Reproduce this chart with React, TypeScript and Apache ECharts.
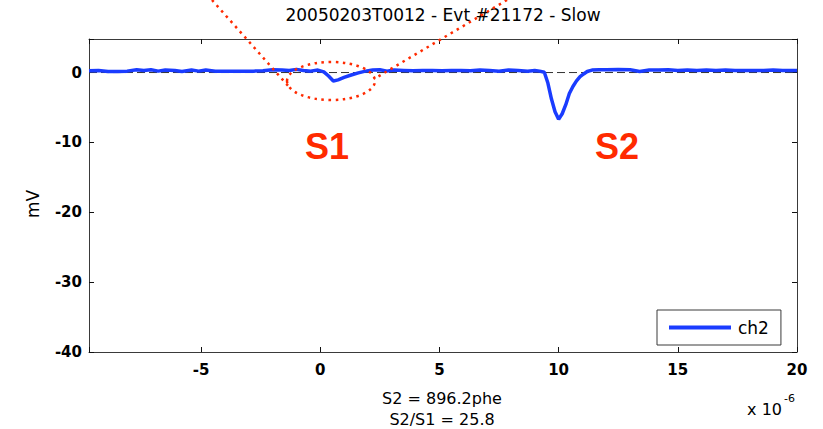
import React, { useEffect, useRef } from 'react';
import * as echarts from 'echarts';

// time in microseconds (axis shows x 10^-6 s)
const timeUs = [
  -9.7, -9.3, -8.9, -8.5, -8.1, -7.7, -7.4, -7.1, -6.8, -6.5, -6.1, -5.8, -5.4, -5.1, -4.8, -4.4,
  -4.0, -3.6, -3.2, -2.8, -2.4, -2.0, -1.6, -1.3, -1.0, -0.7, -0.4, -0.1, 0.15, 0.35, 0.55, 0.75,
  1.0, 1.3, 1.6, 1.9, 2.2, 2.5, 2.8, 3.1, 3.5, 3.9, 4.3, 4.7, 5.1, 5.5, 5.9, 6.3, 6.7, 7.1, 7.5,
  7.9, 8.3, 8.7, 9.0, 9.2, 9.4, 9.55, 9.7, 9.85, 10.0, 10.15, 10.3, 10.45, 10.6, 10.75, 10.9,
  11.05, 11.2, 11.4, 11.7, 12.0, 12.5, 13.0, 13.4, 13.8, 14.2, 14.6, 15.0, 15.4, 15.8, 16.2,
  16.6, 17.0, 17.4, 17.8, 18.2, 18.6, 19.0, 19.4, 19.8, 20.0,
];
// ch2 signal in mV
const ch2mV = [
  0.25, 0.3, 0.15, 0.15, 0.2, 0.4, 0.3, 0.4, 0.2, 0.35, 0.3, 0.15, 0.35, 0.2, 0.35, 0.2,
  0.2, 0.2, 0.2, 0.2, 0.25, 0.4, 0.35, 0.3, 0.45, 0.3, 0.2, 0.35, 0.1, -0.5, -1.2, -1.05,
  -0.7, -0.35, -0.05, 0.2, 0.35, 0.4, 0.2, 0.35, 0.3, 0.25, 0.3, 0.3, 0.25, 0.3, 0.3, 0.25, 0.35, 0.3, 0.2,
  0.35, 0.3, 0.2, 0.3, 0.2, 0.05, -1.5, -3.8, -5.6, -6.7, -5.9, -4.6, -3.0, -2.0, -1.2, -0.6,
  -0.2, 0.15, 0.35, 0.4, 0.4, 0.45, 0.4, 0.15, 0.35, 0.35, 0.4, 0.3, 0.35, 0.3, 0.35,
  0.3, 0.35, 0.3, 0.3, 0.3, 0.3, 0.35, 0.3, 0.3, 0.3,
];
const xRange = [-9.7, 20];
const yRange = [-40, 4.8];
const titleText = '20050203T0012 - Evt #21172 - Slow';
const footerLines = ['S2 = 896.2phe', 'S2/S1 = 25.8'];
const peakLabels = ['S1', 'S2'];

const FONT = '"DejaVu Sans", sans-serif';

export default function App() {
  const ref = useRef<HTMLDivElement>(null);
  useEffect(() => {
    if (!ref.current) return;
    const chart = echarts.init(ref.current, undefined, { renderer: 'svg' });
    const data = timeUs.map((t, i) => [t, ch2mV[i]]);
    const axisLine = { show: true, onZero: false, lineStyle: { color: '#3a3a3a', width: 1 } };
    const tick = { show: true, inside: true, length: 5, lineStyle: { color: '#111', width: 1 } };
    const red = '#ff2a00';
    const option: any = {
      animation: false,
      backgroundColor: '#ffffff',
      grid: { left: 89, right: 26, top: 39, bottom: 77, show: false },
      legend: {
        data: ['ch2'],
        left: 657,
        top: 310,
        icon: 'rect',
        itemWidth: 62,
        itemHeight: 4,
        padding: [9, 12, 9, 12],
        borderColor: '#3a3a3a',
        borderWidth: 1,
        backgroundColor: '#fff',
        borderRadius: 0,
        textStyle: { fontFamily: FONT, fontSize: 17, color: '#000', padding: [0, 0, 0, 2] },
      },
      xAxis: [
        {
          type: 'value', min: xRange[0], max: xRange[1], splitNumber: 6,
          axisLine, axisTick: tick, splitLine: { show: false },
          axisLabel: {
            margin: 10, fontFamily: FONT, fontSize: 15, fontWeight: 'bold', color: '#000',
            formatter: (v: number) => (Math.abs(v % 5) < 1e-9 ? String(v) : ''),
          },
        },
        {
          type: 'value', position: 'top', min: xRange[0], max: xRange[1], splitNumber: 6,
          axisLine, axisTick: tick, splitLine: { show: false }, axisLabel: { show: false },
        },
      ],
      yAxis: [
        {
          type: 'value', min: yRange[0], max: yRange[1], interval: 10,
          axisLine, axisTick: tick, splitLine: { show: false },
          axisLabel: {
            margin: 7, fontFamily: FONT, fontSize: 15, fontWeight: 'bold', color: '#000',
            formatter: (v: number) => (Math.abs(v % 10) < 1e-9 ? String(v) : ''),
          },
        },
        {
          type: 'value', position: 'right', min: yRange[0], max: yRange[1], interval: 10,
          axisLine, axisTick: tick, splitLine: { show: false }, axisLabel: { show: false },
        },
      ],
      series: [
        {
          name: 'zero',
          type: 'line',
          data: [[xRange[0], 0], [xRange[1], 0]],
          showSymbol: false,
          silent: true,
          lineStyle: { color: '#333', width: 1, type: [8, 4] },
          z: 1,
        },
        {
          name: 'ch2',
          type: 'line',
          data,
          showSymbol: false,
          lineStyle: { color: '#1a3cff', width: 3.5 },
          itemStyle: { color: '#1a3cff' },
          z: 2,
        },
      ],
      graphic: [
        {
          type: 'text', x: 443, y: 15,
          style: { text: titleText, font: `17px ${FONT}`, fill: '#000', align: 'center', verticalAlign: 'middle' },
        },
        {
          type: 'text', x: 33, y: 204, rotation: Math.PI / 2,
          style: { text: 'mV', font: `17px ${FONT}`, fill: '#000', align: 'center', verticalAlign: 'middle' },
        },
        {
          type: 'text', x: 327, y: 146,
          style: { text: peakLabels[0], font: `bold 36px "Liberation Sans", Arial, sans-serif`, fill: red, align: 'center', verticalAlign: 'middle' },
        },
        {
          type: 'text', x: 617, y: 146,
          style: { text: peakLabels[1], font: `bold 36px "Liberation Sans", Arial, sans-serif`, fill: red, align: 'center', verticalAlign: 'middle' },
        },
        {
          type: 'text', x: 442, y: 398,
          style: { text: footerLines[0], font: `16px ${FONT}`, fill: '#000', align: 'center', verticalAlign: 'middle' },
        },
        {
          type: 'text', x: 442, y: 419,
          style: { text: footerLines[1], font: `16px ${FONT}`, fill: '#000', align: 'center', verticalAlign: 'middle' },
        },
        {
          type: 'text', x: 782, y: 409,
          style: { text: 'x 10', font: `16px ${FONT}`, fill: '#000', align: 'right', verticalAlign: 'middle' },
        },
        {
          type: 'text', x: 784, y: 398,
          style: { text: '-6', font: `11px ${FONT}`, fill: '#000', align: 'left', verticalAlign: 'middle' },
        },
        {
          type: 'ellipse', shape: { cx: 331, cy: 81, rx: 44, ry: 19 }, z: 10,
          style: { fill: 'none', stroke: red, lineWidth: 2.5, lineDash: [2.5, 4.5] },
        },
        {
          type: 'line', shape: { x1: 212, y1: 0, x2: 290, y2: 88 }, z: 10,
          style: { stroke: red, lineWidth: 2.5, lineDash: [2.5, 4.5] },
        },
        {
          type: 'line', shape: { x1: 507, y1: 0, x2: 374, y2: 79 }, z: 10,
          style: { stroke: red, lineWidth: 2.5, lineDash: [2.5, 4.5] },
        },
      ],
    };
    chart.setOption(option);
    return () => chart.dispose();
  }, []);
  return <div ref={ref} style={{ position: 'fixed', left: 0, top: 0, width: 823, height: 429 }} />;
}
